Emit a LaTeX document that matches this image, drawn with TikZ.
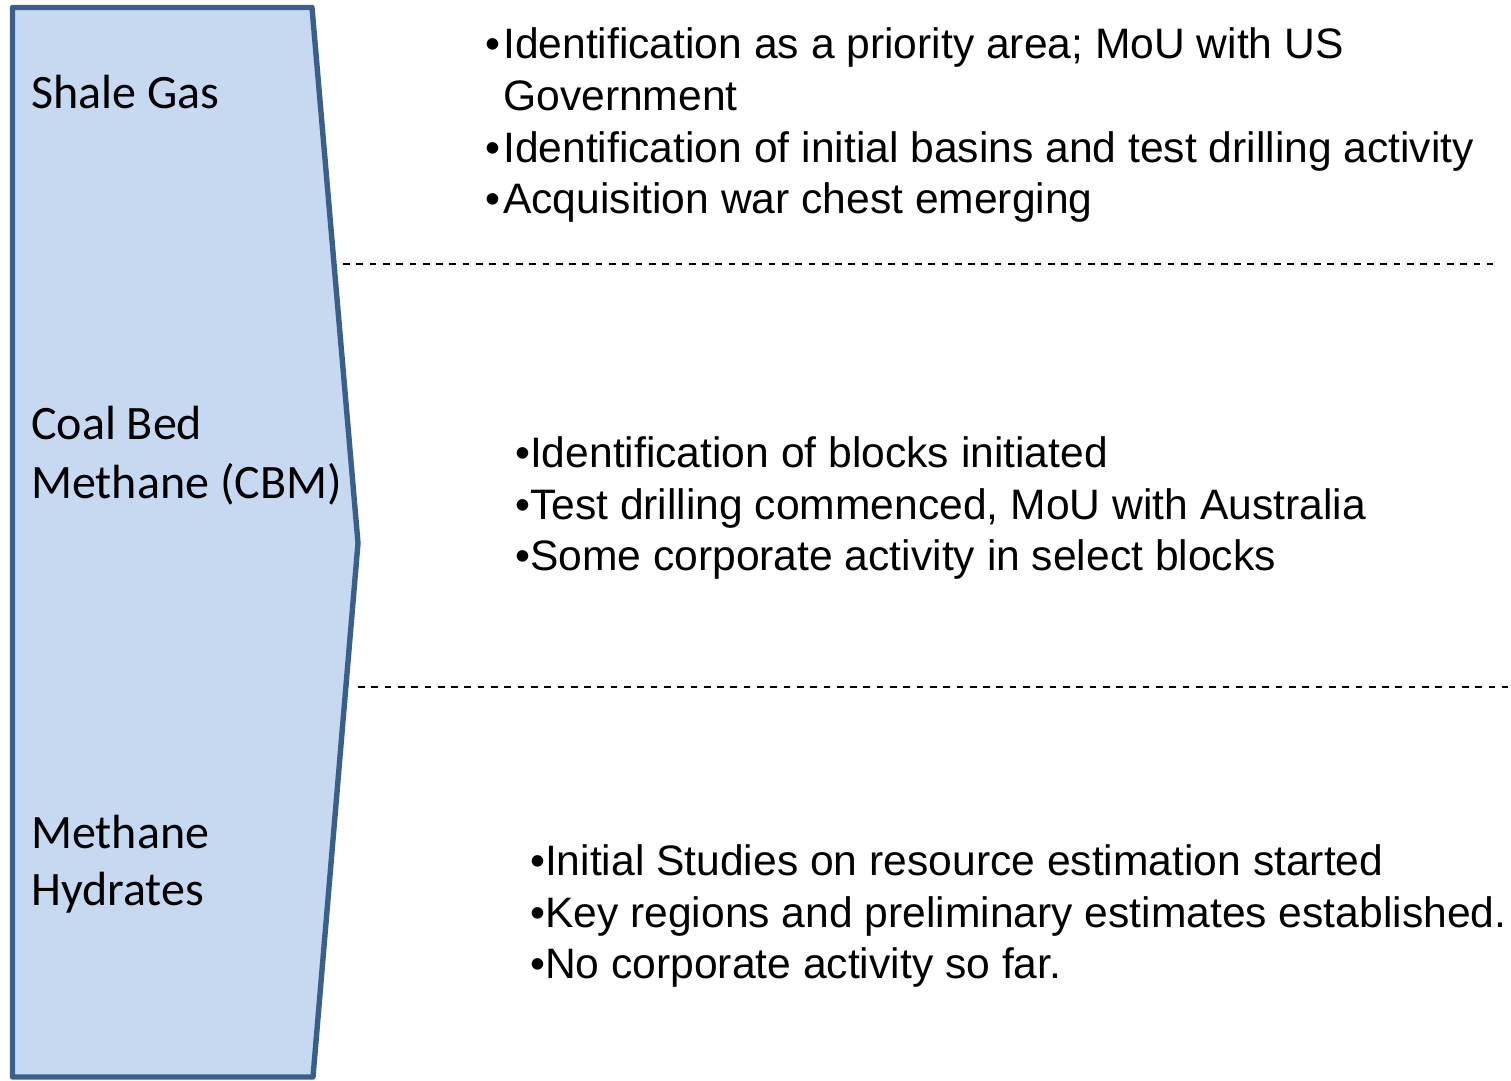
\documentclass[tikz,border=0pt]{standalone}
\usepackage{fontspec}
\setmainfont{Liberation Sans}
\newfontfamily\carlito{Carlito}
\usetikzlibrary{positioning}
\definecolor{panelfill}{HTML}{C6D9F1}
\definecolor{paneledge}{HTML}{3A5F8B}

\begin{document}
\begin{tikzpicture}[x=1pt, y=-1pt,
  gastype/.style={anchor=base west, inner sep=0pt, font=\carlito\fontsize{48}{59}\selectfont},
  item/.style={anchor=base west, inner sep=0pt, font=\fontsize{42.6}{52}\selectfont},
  divider/.style={dash pattern=on 6.7pt off 6.6pt, line width=2.2pt}]
\useasboundingbox (0,0) rectangle (1511,1080);

\draw[paneledge, fill=panelfill, line width=5.4pt, line join=round] (12.5,7.5) -- (312,7.5) -- (358,543) -- (313,1077) -- (12.5,1077) -- cycle;

\node[gastype] (shale) at (31,108) {Shale Gas};
\node[gastype] (cbma) at (31,439) {Coal Bed};
\node[gastype] (cbmb) at (31,498) {Methane (CBM)};
\node[gastype] (hyda) at (31,848) {Methane};
\node[gastype] (hydb) at (31,905) {Hydrates};

% shale gas
\node[item] (sga) at (485,58) {\makebox[18pt][l]{•}Identification as a priority area; MoU with US};
\node[item] (sgb) at (503,110) {Government};
\node[item] (sgc) at (485,162) {\makebox[18pt][l]{•}Identification of initial basins and test drilling activity};
\node[item] (sgd) at (485,213) {\makebox[18pt][l]{•}Acquisition war chest emerging};

\coordinate (divaw) at (343,264);
\coordinate (divae) at (1493,264);
\draw[divider] (divaw) -- (divae);

% cbm
\node[item] (cba) at (515,467) {•Identification of blocks initiated};
\node[item] (cbb) at (515,519) {•Test drilling commenced, MoU with Australia};
\node[item] (cbc) at (515,570) {•Some corporate activity in select blocks};

\coordinate (divbw) at (358,687);
\coordinate (divbe) at (1508,687);
\draw[divider] (divbw) -- (divbe);

% hydrates
\node[item] (mha) at (530,875) {•Initial Studies on resource estimation started};
\node[item] (mhb) at (530,927) {•Key regions and preliminary estimates established.};
\node[item] (mhc) at (530,978) {•No corporate activity so far.};
\end{tikzpicture}
\end{document}
